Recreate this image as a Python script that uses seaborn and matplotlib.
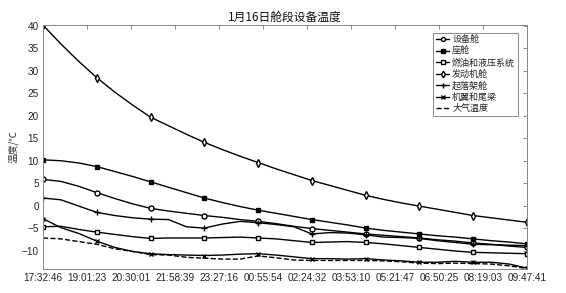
import numpy as np
import pandas as pd
import matplotlib
matplotlib.use("Agg")
import matplotlib.pyplot as plt
import seaborn as sns

# ---------------- data ----------------
title = "1月16日舱段设备温度"
ylabel = "温度/℃"
start_time = "2024-01-16 17:32:46"
end_time = "2024-01-17 09:47:41"
tick_labels = ["17:32:46", "19:01:23", "20:30:01", "21:58:39", "23:27:16", "00:55:54",
               "02:24:32", "03:53:10", "05:21:47", "06:50:25", "08:19:03", "09:47:41"]

series_names = ["设备舱", "座舱", "燃油和液压系统", "发动机舱", "起落架舱", "机翼和尾梁", "大气温度"]

equip = [5.85, 5.4, 4.3, 2.9, 1.6, 0.4, -0.6, -1.2, -1.7, -2.2, -2.6, -3.1, -3.5, -4.0,
         -4.6, -5.1, -5.5, -5.9, -6.3, -6.6, -6.9, -7.2, -7.6, -7.9, -8.3, -8.6, -9.0, -9.3]
cockpit = [10.2, 10.0, 9.5, 8.7, 7.6, 6.5, 5.3, 4.1, 2.9, 1.7, 0.7, -0.2, -1.0, -1.7,
           -2.4, -3.1, -3.7, -4.3, -5.0, -5.5, -5.9, -6.3, -6.7, -7.0, -7.4, -7.8, -8.1, -8.5]
fuel = [-4.7, -4.6, -5.3, -5.9, -6.4, -6.9, -7.3, -7.2, -7.2, -7.2, -7.1, -7.0, -7.2, -7.4,
        -7.8, -8.2, -8.1, -8.0, -8.2, -8.5, -8.9, -9.3, -9.7, -10.1, -10.4, -10.5, -10.6, -10.7]
engine = [40.2, 36.0, 32.1, 28.5, 25.3, 22.4, 19.7, 17.8, 15.9, 14.1, 12.5, 11.0, 9.6, 8.2,
          6.9, 5.6, 4.5, 3.4, 2.3, 1.4, 0.6, -0.1, -0.8, -1.5, -2.2, -2.7, -3.2, -3.7]
gear = [1.7, 1.3, -0.1, -1.5, -2.2, -2.7, -3.0, -3.1, -4.7, -5.0, -4.1, -3.5, -3.8, -4.2,
        -4.7, -6.3, -6.0, -6.1, -6.5, -7.0, -7.1, -7.3, -7.8, -8.2, -8.6, -8.7, -8.8, -8.9]
wing = [-2.9, -4.9, -6.2, -7.9, -9.3, -10.2, -10.7, -10.9, -11.0, -11.1, -11.0, -10.8, -10.7, -11.0,
        -11.4, -11.8, -11.8, -11.9, -11.8, -12.1, -12.3, -12.6, -12.6, -12.4, -12.6, -12.6, -13.0, -13.9]
air = [-7.2, -7.4, -8.0, -8.6, -9.6, -10.2, -10.9, -11.0, -11.5, -11.7, -11.9, -11.9, -11.2, -11.6,
       -12.1, -12.2, -12.2, -12.2, -12.2, -12.3, -12.5, -12.8, -12.9, -12.8, -12.9, -13.0, -13.4, -14.0]

# ---------------- plot ----------------
sns.set_theme(style="white")
plt.rcParams["font.family"] = ["Liberation Sans", "Noto Sans CJK SC", "DejaVu Sans"]

t0 = pd.Timestamp(start_time)
t1 = pd.Timestamp(end_time)
times = pd.date_range(t0, t1, periods=len(engine))
tick_pos = pd.date_range(t0, t1, periods=len(tick_labels))

fig, ax = plt.subplots(figsize=(5.66, 2.93), dpi=100)
fig.subplots_adjust(left=0.076, right=0.931, top=0.915, bottom=0.082)

styles = [
    (equip, dict(marker="o", mfc="white", ms=3.6)),
    (cockpit, dict(marker="s", mfc="black", ms=3.0)),
    (fuel, dict(marker="s", mfc="white", ms=3.2)),
    (engine, dict(marker="d", mfc="white", ms=4.2)),
    (gear, dict(marker="+", ms=4.5)),
    (wing, dict(marker="x", ms=3.3)),
    (air, dict(linestyle="--")),
]
for name, (vals, kw) in zip(series_names, styles):
    extra = dict(markevery=3, mec="black", mew=1.0) if "marker" in kw else {}
    sns.lineplot(x=times, y=vals, ax=ax, color="black", linewidth=1.0,
                 label=name, **kw, **extra)

ax.set_xlim(t0, t1)
ax.set_ylim(-14.1, 40.25)
ax.set_yticks(np.arange(-10, 41, 5))
ax.set_xticks(tick_pos)
ax.set_xticklabels(tick_labels)
ax.tick_params(axis="both", direction="in", length=3, width=0.6, colors="#777777",
               labelcolor="#262626", labelsize=7.2, top=True, right=True, pad=3)
for sp in ax.spines.values():
    sp.set_color("#888888")
    sp.set_linewidth(0.7)

ax.set_title(title, fontsize=8.5, pad=3, color="#111111",
             family=["Noto Sans CJK SC", "DejaVu Sans"])
ax.set_ylabel(ylabel, fontsize=7, color="#333333", labelpad=2,
              family=["Noto Sans CJK SC", "DejaVu Sans"])
ax.set_xlabel("")

leg = ax.legend(loc="upper right", bbox_to_anchor=(0.985, 0.975),
                frameon=True, fancybox=False, handlelength=1.5, handletextpad=0.3,
                borderpad=0.3, labelspacing=0.25, borderaxespad=0.2, markerscale=0.8,
                prop={"family": ["Noto Sans CJK SC", "DejaVu Sans"], "size": 6.5})
leg.get_frame().set_edgecolor("#555555")
leg.get_frame().set_linewidth(0.6)

fig.savefig("out.png", dpi=100)
